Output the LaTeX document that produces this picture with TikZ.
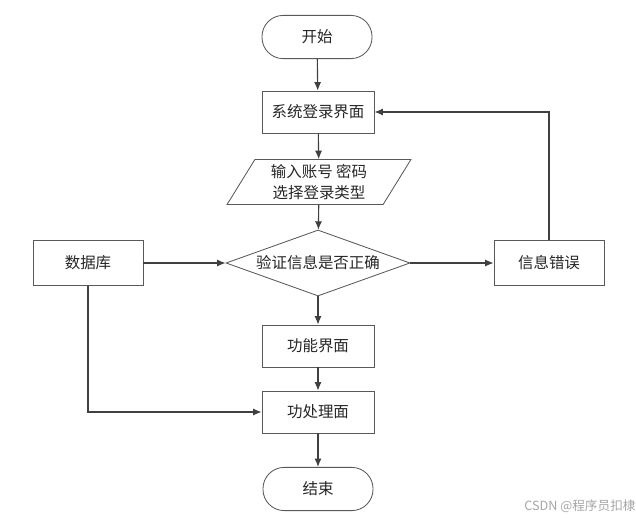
\documentclass[tikz,border=0pt]{standalone}
\usepackage{fontspec}
\newfontfamily\cjk{Noto Sans CJK SC}
\usepackage{tikz}
\usetikzlibrary{shapes.geometric, arrows.meta, positioning, calc}

\begin{document}
\begin{tikzpicture}[
    x=0.025cm, y=-0.025cm,
    every node/.style={font=\cjk\fontsize{11}{14}\selectfont, text=black!85},
    process/.style={rectangle, draw=black!65, line width=0.6pt, fill=white, minimum width=2.8cm, minimum height=1.05cm, text centered},
    sidebox/.style={process, minimum width=2.75cm, minimum height=1.12cm},
    terminal/.style={rectangle, rounded corners=0.53cm, draw=black!65, line width=0.6pt, fill=white, minimum width=2.75cm, minimum height=1.08cm},
    io/.style={trapezium, trapezium left angle=63, trapezium right angle=117, trapezium stretches=true, draw=black!65, line width=0.6pt, minimum width=4.6cm, minimum height=1cm, align=center, font=\cjk\fontsize{11}{15}\selectfont},
    decision/.style={diamond, aspect=2.8, inner sep=0pt, draw=black!65, line width=0.6pt, minimum width=4.6cm, minimum height=1.65cm},
    line/.style={draw=black!75, line width=0.8pt, -{Latex[length=6pt, width=5pt]}}
]
\useasboundingbox (0,0) rectangle (636,519);
\node[terminal] (start) at (317, 37) {开始};
\node[process] (login) at (318, 112) {系统登录界面};
\node[io] (input) at (319, 182) {输入账号 密码\\选择登录类型};
\node[decision] (check) at (318, 263) {验证信息是否正确};
\node[sidebox] (db) at (88, 263) {数据库};
\node[sidebox] (err) at (549, 263) {信息错误};
\node[process] (func) at (318, 346) {功能界面};
\node[process] (proc) at (318, 412) {功处理面};
\node[terminal] (stop) at (318, 489) {结束};
\node[font=\cjk\fontsize{9}{11}\selectfont, text=black!35] (mark) at (580, 506) {CSDN @程序员扣棣};
\draw[line] (start) -- (login);
\draw[line] (login) -- (input);
\draw[line] (input) -- (check);
\draw[line] (db) -- (check);
\draw[line] (check) -- (err);
\draw[line] (err.north) |- (login.east);
\draw[line] (check) -- (func);
\draw[line] (func) -- (proc);
\draw[line] (db.south) |- (proc.west);
\draw[line] (proc) -- (stop);
\end{tikzpicture}
\end{document}
